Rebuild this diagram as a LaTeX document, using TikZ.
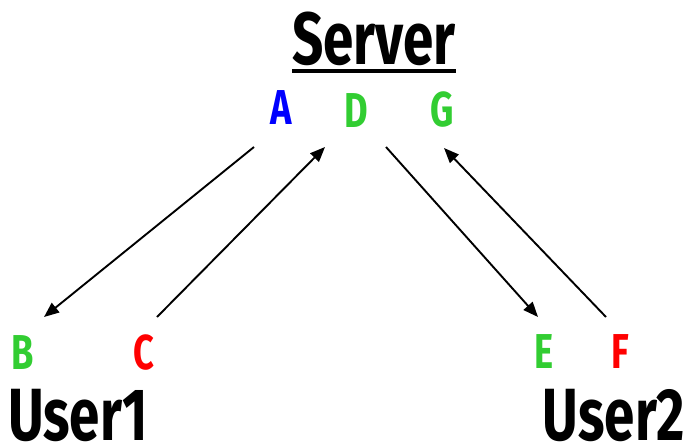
\documentclass[tikz,border=0pt]{standalone}
\usepackage{fontspec}
\usetikzlibrary{arrows.meta}
\newfontfamily\labelfont{Fira Sans}[FakeStretch=0.74]
\definecolor{keyblue}{RGB}{0,0,255}
\definecolor{keygreen}{RGB}{50,205,50}
\definecolor{keyred}{RGB}{255,0,0}
\tikzset{
  party/.style={inner sep=0pt, anchor=base, font=\labelfont\bfseries\fontsize{74}{74}\selectfont},
  key/.style={inner sep=0pt, anchor=base, font=\labelfont\bfseries\fontsize{49}{49}\selectfont},
  msg/.style={line width=1.9pt, -{Triangle[length=15pt,width=12pt]}}
}
\begin{document}
\begin{tikzpicture}[x=1pt,y=-1pt]
    \useasboundingbox (0,0) rectangle (686,447);
    % server with its keys
    \node[party] (server) at (374,64) {Server};
    \draw[line width=4pt] ([yshift=-7pt]server.base west) -- ([yshift=-7pt]server.base east);
    \node[key,keyblue]  (A) at (281,124) {A};
    \node[key,keygreen] (D) at (356,127) {D};
    \node[key,keygreen] (G) at (442,126) {G};
    % users with their keys
    \node[key,keygreen] (B) at (23,369) {B};
    \node[key,keyred]   (C) at (144,369) {C};
    \node[key,keygreen] (E) at (544,368) {E};
    \node[key,keyred]   (F) at (620,368) {F};
    \node[party] (user1) at (78,440) {User1};
    \node[party] (user2) at (614,440) {User2};
    % arrow ends
    \coordinate (A-out) at (254,147);
    \coordinate (B-in)  at (44,317);
    \coordinate (C-out) at (157,317);
    \coordinate (D-in)  at (325,147);
    \coordinate (D-out) at (386,147);
    \coordinate (E-in)  at (538,317);
    \coordinate (F-out) at (606,317);
    \coordinate (G-in)  at (444,148);
    % exchanges
    \draw[msg] (A-out) -- (B-in);
    \draw[msg] (C-out) -- (D-in);
    \draw[msg] (D-out) -- (E-in);
    \draw[msg] (F-out) -- (G-in);
\end{tikzpicture}
\end{document}
